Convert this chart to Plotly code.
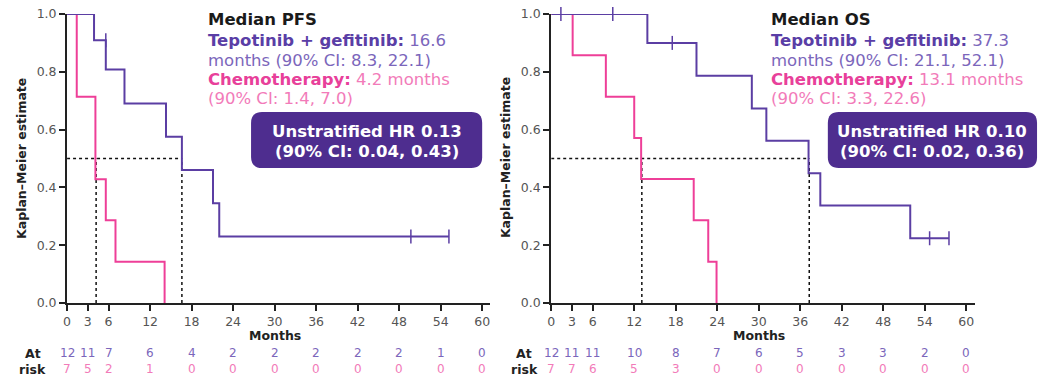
import plotly.graph_objects as go

# ---------------- data ----------------
# PFS (left panel)
pfs_tep_t = [0, 3.9, 5.6, 8.3, 14.3, 16.6, 21.1, 22.0, 55.2]
pfs_tep_s = [1.0, 0.909, 0.808, 0.69, 0.575, 0.46, 0.345, 0.23, 0.23]
pfs_tep_cens_t = [5.6, 49.7, 55.2]
pfs_tep_cens_s = [0.909, 0.23, 0.23]
pfs_chemo_t = [0, 1.4, 4.1, 5.6, 7.0, 14.1]
pfs_chemo_s = [1.0, 0.714, 0.428, 0.286, 0.143, 0.0]
pfs_median_tep = 16.6
pfs_median_chemo = 4.2

# OS (right panel)
os_tep_t = [0, 13.9, 21.0, 29.0, 31.1, 37.2, 38.9, 51.9, 57.5]
os_tep_s = [1.0, 0.9, 0.786, 0.673, 0.561, 0.449, 0.337, 0.224, 0.224]
os_tep_cens_t = [1.4, 8.9, 17.5, 54.7, 57.5]
os_tep_cens_s = [1.0, 1.0, 0.9, 0.224, 0.224]
os_chemo_t = [0, 3.1, 7.9, 12.0, 13.0, 20.6, 22.7, 23.9]
os_chemo_s = [1.0, 0.857, 0.714, 0.571, 0.429, 0.286, 0.143, 0.0]
os_median_tep = 37.3
os_median_chemo = 13.1

# at-risk tables
risk_times = [0, 3, 6, 12, 18, 24, 30, 36, 42, 48, 54, 60]
pfs_risk_tep = [12, 11, 7, 6, 4, 2, 2, 2, 2, 2, 1, 0]
pfs_risk_chemo = [7, 5, 2, 1, 0, 0, 0, 0, 0, 0, 0, 0]
os_risk_tep = [12, 11, 11, 10, 8, 7, 6, 5, 3, 3, 2, 0]
os_risk_chemo = [7, 7, 6, 5, 3, 0, 0, 0, 0, 0, 0, 0]

x_ticks = [0, 3, 6, 12, 18, 24, 30, 36, 42, 48, 54, 60]
y_ticks = [0.0, 0.2, 0.4, 0.6, 0.8, 1.0]

# ---------------- style ----------------
W, H = 1048, 388
MT, MB = 14, 85
PH = H - MT - MB
PURPLE = "#5b3ea3"
PINK = "#ee3f98"
PURPLE_TXT = "#5a3ea6"
PURPLE_LIGHT = "#7b66bb"
PINK_TXT = "#e8409a"
PINK_LIGHT = "#f27bb9"
BOX = "#4e2d8f"
FONT = "DejaVu Sans"
TXT = 16.5


def px(x):
    return x / W


def py(y):
    return (H - MB - y) / PH


fig = go.Figure()

panels = [
    dict(xa="x", ya="y", t1=pfs_tep_t, s1=pfs_tep_s, ct=pfs_tep_cens_t, cs=pfs_tep_cens_s,
         t2=pfs_chemo_t, s2=pfs_chemo_s, m1=pfs_median_tep, m2=pfs_median_chemo),
    dict(xa="x2", ya="y2", t1=os_tep_t, s1=os_tep_s, ct=os_tep_cens_t, cs=os_tep_cens_s,
         t2=os_chemo_t, s2=os_chemo_s, m1=os_median_tep, m2=os_median_chemo),
]

for p in panels:
    mmax = max(p["m1"], p["m2"])
    fig.add_trace(go.Scatter(x=[0, mmax], y=[0.5, 0.5], mode="lines",
                             line=dict(color="#111", width=1.5, dash="dot"),
                             xaxis=p["xa"], yaxis=p["ya"], showlegend=False, hoverinfo="skip"))
    for m in (p["m1"], p["m2"]):
        fig.add_trace(go.Scatter(x=[m, m], y=[0, 0.5], mode="lines",
                                 line=dict(color="#111", width=1.5, dash="dot"),
                                 xaxis=p["xa"], yaxis=p["ya"], showlegend=False, hoverinfo="skip"))
    fig.add_trace(go.Scatter(x=p["t2"], y=p["s2"], mode="lines", line_shape="hv",
                             line=dict(color=PINK, width=2), cliponaxis=False,
                             xaxis=p["xa"], yaxis=p["ya"], showlegend=False))
    fig.add_trace(go.Scatter(x=p["t1"], y=p["s1"], mode="lines", line_shape="hv",
                             line=dict(color=PURPLE, width=2), cliponaxis=False,
                             xaxis=p["xa"], yaxis=p["ya"], showlegend=False))
    fig.add_trace(go.Scatter(x=p["ct"], y=p["cs"], mode="markers", cliponaxis=False,
                             marker=dict(symbol="line-ns", size=10,
                                         line=dict(color=PURPLE, width=1.5)),
                             xaxis=p["xa"], yaxis=p["ya"], showlegend=False))

axis_common = dict(showgrid=False, zeroline=False, showline=True, linecolor="#222",
                   linewidth=2, ticks="outside", ticklen=6, tickwidth=2, tickcolor="#222",
                   tickfont=dict(family=FONT, size=12.5, color="#555"))

dom_left = [px(63.3), px(488.3)]
dom_right = [px(549.3), px(974.3)]

fig.update_layout(
    width=W, height=H,
    margin=dict(l=0, r=0, t=MT, b=MB),
    paper_bgcolor="white", plot_bgcolor="white",
    font=dict(family=FONT),
    xaxis=dict(domain=dom_left, range=[0, 61.2], tickvals=x_ticks, anchor="y", **axis_common),
    yaxis=dict(domain=[0, 1], range=[0, 1.0], tickvals=y_ticks, tickformat=".1f", anchor="x",
               **axis_common),
    xaxis2=dict(domain=dom_right, range=[0, 61.2], tickvals=x_ticks, anchor="y2", **axis_common),
    yaxis2=dict(domain=[0, 1], range=[0, 1.0], tickvals=y_ticks, tickformat=".1f", anchor="x2",
                **axis_common),
)

annotations = []
shapes = []


def label(xp, yp, text, size, color, xanchor="left", angle=0):
    annotations.append(dict(xref="paper", yref="paper", x=px(xp), y=py(yp), xanchor=xanchor,
                            yanchor="middle", showarrow=False, text=text, textangle=angle,
                            font=dict(family=FONT, size=size, color=color)))


texts = [
    ("Median PFS", "Tepotinib + gefitinib:", "16.6", "months (90% CI: 8.3, 22.1)",
     "Chemotherapy:", "4.2 months", "(90% CI: 1.4, 7.0)", 202.5),
    ("Median OS", "Tepotinib + gefitinib:", "37.3", "months (90% CI: 21.1, 52.1)",
     "Chemotherapy:", "13.1 months", "(90% CI: 3.3, 22.6)", 768.0),
]
line_y = [19, 40, 60, 79, 99]
for (title, tb, tv, tl, cb, cv, cl, xl) in texts:
    label(xl, line_y[0], f"<b>{title}</b>", TXT, "#1a1a1a")
    label(xl, line_y[1], f"<b>{tb}</b> <span style='color:{PURPLE_LIGHT}'>{tv}</span>",
          TXT, PURPLE_TXT)
    label(xl, line_y[2], tl, TXT, PURPLE_LIGHT)
    label(xl, line_y[3], f"<b>{cb}</b> <span style='color:{PINK_LIGHT}'>{cv}</span>",
          TXT, PINK_TXT)
    label(xl, line_y[4], cl, TXT, PINK_LIGHT)

hr_boxes = [
    (248, 480, "Unstratified HR 0.13", "(90% CI: 0.04, 0.43)"),
    (827, 1037, "Unstratified HR 0.10", "(90% CI: 0.02, 0.36)"),
]
y0b, y1b, r = 112, 168, 11
for (x0b, x1b, l1, l2) in hr_boxes:
    rx, ry = r / W, r / PH
    X0, X1, Yt, Yb = px(x0b), px(x1b), py(y0b), py(y1b)
    path = (f"M {X0+rx},{Yt} L {X1-rx},{Yt} Q {X1},{Yt} {X1},{Yt-ry} "
            f"L {X1},{Yb+ry} Q {X1},{Yb} {X1-rx},{Yb} "
            f"L {X0+rx},{Yb} Q {X0},{Yb} {X0},{Yb+ry} "
            f"L {X0},{Yt-ry} Q {X0},{Yt} {X0+rx},{Yt} Z")
    shapes.append(dict(type="path", xref="paper", yref="paper", path=path,
                       fillcolor=BOX, line=dict(width=0), layer="above"))
    xc = (x0b + x1b) / 2
    label(xc, 131, f"<b>{l1}</b>", TXT, "white", xanchor="center")
    label(xc, 151, f"<b>{l2}</b>", TXT, "white", xanchor="center")

# axis titles
for xr, ytx in (("x", 17), ("x2", 503)):
    annotations.append(dict(xref=xr, yref="paper", x=30, y=py(335), xanchor="center",
                            yanchor="middle", showarrow=False, text="<b>Months</b>",
                            font=dict(family=FONT, size=12.5, color="#222")))
    label(ytx, 158, "<b>Kaplan\u2013Meier estimate</b>", 12.5, "#222", xanchor="center",
          angle=-90)

# at-risk tables
for xr, lab_x, r1, r2 in (("x", 29, pfs_risk_tep, pfs_risk_chemo),
                          ("x2", 522, os_risk_tep, os_risk_chemo)):
    label(lab_x, 353, "<b>At</b>", 12.5, "#222", xanchor="center")
    label(lab_x, 369, "<b>risk</b>", 12.5, "#222", xanchor="center")
    for t, a, b in zip(risk_times, r1, r2):
        annotations.append(dict(xref=xr, yref="paper", x=t, y=py(353), xanchor="center",
                                yanchor="middle", showarrow=False, text=str(a),
                                font=dict(family=FONT, size=12, color=PURPLE_LIGHT)))
        annotations.append(dict(xref=xr, yref="paper", x=t, y=py(369), xanchor="center",
                                yanchor="middle", showarrow=False, text=str(b),
                                font=dict(family=FONT, size=12, color=PINK_LIGHT)))

fig.update_layout(annotations=annotations, shapes=shapes)
fig.write_html("out.html", config={"displayModeBar": False},
               post_script="document.body.style.margin='0';document.body.style.overflow='hidden';")
